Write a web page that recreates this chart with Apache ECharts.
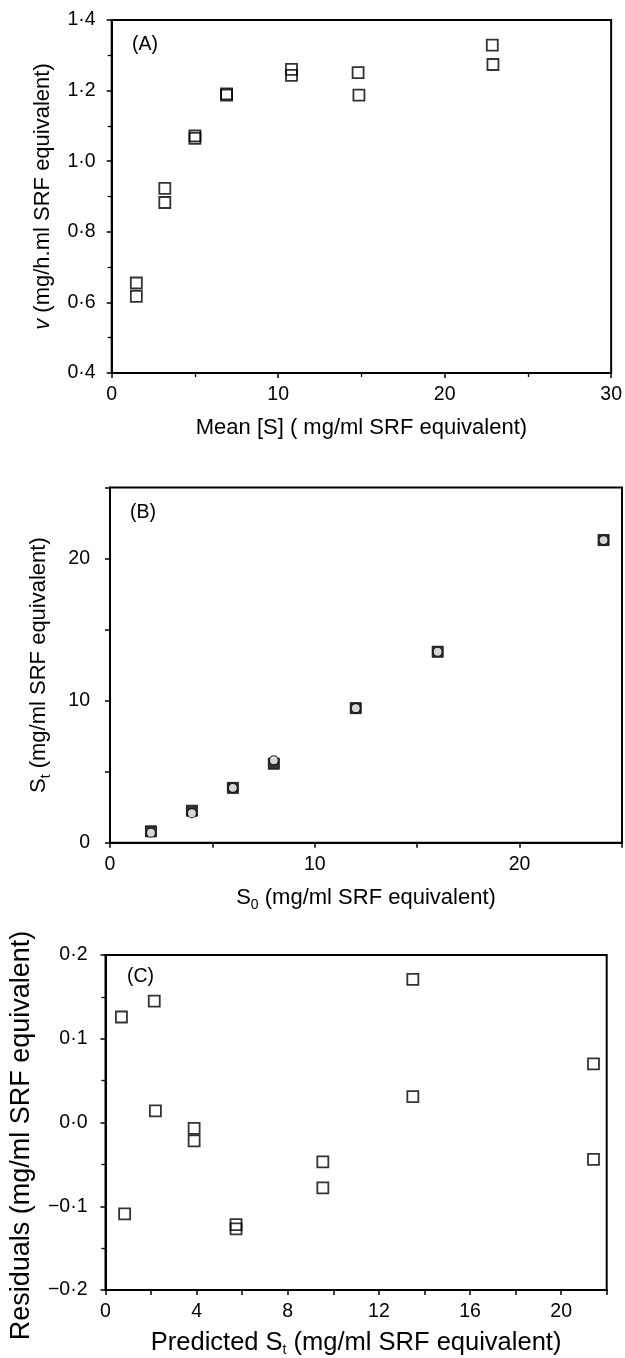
<!DOCTYPE html>
<html>
<head>
<meta charset="utf-8">
<script src="https://cdn.jsdelivr.net/npm/echarts@6/dist/echarts.min.js"></script>
<style>
  html, body { margin: 0; padding: 0; background: #fff; }
  #chart { width: 625px; height: 1358px; }
</style>
</head>
<body>
<div id="chart"></div>
<script>
// panel A: rate vs mean substrate
const aMeanS = [1.48, 1.48, 3.19, 3.19, 5.0, 5.0, 6.9, 6.9, 10.8, 10.8, 14.8, 14.85, 22.86, 22.9];
const aRate = [0.655, 0.617, 0.923, 0.883, 1.072, 1.065, 1.191, 1.187, 1.26, 1.243, 1.251, 1.187, 1.329, 1.274];

// panel B: St vs S0 (squares = observed, circles = fitted)
const bS0 = [2, 4, 6, 8, 12, 16, 24.1];
const bStSquare = [0.8, 2.25, 3.86, 5.56, 9.47, 13.44, 21.3];
const bStCircle = [0.7, 2.08, 3.86, 5.8, 9.47, 13.44, 21.3];

// panel C: residuals vs predicted St
const cPredSt = [0.7, 2.14, 2.19, 0.84, 3.89, 3.89, 5.73, 5.73, 9.54, 9.54, 13.49, 13.49, 21.42, 21.42];
const cResidual = [0.126, 0.145, 0.014, -0.109, -0.007, -0.022, -0.122, -0.127, -0.047, -0.078, 0.171, 0.031, 0.070, -0.044];

const black = '#000';
const font = '"Liberation Sans", Arial, Helvetica, sans-serif';

const pairs = (xs, ys) => xs.map((x, i) => [x, ys[i]]);

// decimal labels with a raised dot, like the print
const dotFmt = v => {
  if (Math.abs(v) < 1e-9) v = 0;
  return (v < 0 ? '−' : '') + Math.abs(v).toFixed(1).replace('.', '·');
};
const everyFmt = step => v => (Math.abs(v / step - Math.round(v / step)) < 1e-6 ? String(Math.round(v)) : '');

function axis(o) {
  const size = o.nameSize || 22;
  return {
    type: 'value',
    gridIndex: o.grid,
    min: o.min,
    max: o.max,
    interval: o.interval,
    name: o.name,
    nameLocation: 'middle',
    nameGap: o.nameGap,
    nameTextStyle: {
      color: black, fontFamily: font, fontSize: size,
      padding: o.namePad || 0,
      rich: {
        n: { fontFamily: font, fontSize: size, color: black, lineHeight: 28 },
        i: { fontFamily: font, fontSize: size, color: black, fontStyle: 'italic', lineHeight: 28 },
        sub: { fontFamily: font, fontSize: 14, color: black, lineHeight: 14, verticalAlign: 'bottom' }
      }
    },
    axisLine: { show: true, onZero: false, lineStyle: { color: black, width: 2 } },
    axisTick: { show: true, inside: false, length: 5, lineStyle: { color: black, width: 1.5 } },
    minorTick: { show: !!o.minor, splitNumber: 2, length: 4, lineStyle: { color: black, width: 1.3 } },
    splitLine: { show: false },
    minorSplitLine: { show: false },
    axisLabel: {
      color: black, fontFamily: font, fontSize: 19.5, margin: o.margin,
      showMinLabel: true, showMaxLabel: true,
      formatter: o.fmt
    }
  };
}

const chart = echarts.init(document.getElementById('chart'), null, { renderer: 'canvas' });

chart.setOption({
  animation: false,
  backgroundColor: '#fff',
  grid: [
    { left: 111.7, top: 20, width: 501, height: 353, show: true, borderColor: black, borderWidth: 2, containLabel: false },
    { left: 110, top: 487.5, width: 518.75, height: 355.2, show: true, borderColor: black, borderWidth: 2, containLabel: false },
    { left: 105, top: 955, width: 501.7, height: 337.7, show: true, borderColor: black, borderWidth: 2, containLabel: false }
  ],
  xAxis: [
    axis({ grid: 0, min: 0, max: 30, interval: 10, minor: true, margin: 12, nameGap: 41,
      name: '{n|Mean [S] ( mg/ml SRF equivalent)}', fmt: v => String(v) }),
    axis({ grid: 1, min: 0, max: 25, interval: 5, margin: 12, nameGap: 41,
      name: '{n|S}{sub|0}{n| (mg/ml SRF equivalent)}', fmt: everyFmt(10) }),
    axis({ grid: 2, min: 0, max: 22, interval: 2, margin: 12, nameGap: 39, nameSize: 25.5,
      name: '{n|Predicted S}{sub|t}{n| (mg/ml SRF equivalent)}', fmt: everyFmt(4) })
  ],
  yAxis: [
    axis({ grid: 0, min: 0.4, max: 1.4, interval: 0.2, minor: true, margin: 16, nameGap: 55,
      name: '{i|v}{n| (mg/h.ml SRF equivalent)}', fmt: dotFmt }),
    axis({ grid: 1, min: 0, max: 25, interval: 5, margin: 20, nameGap: 57,
      name: '{n|S}{sub|t}{n| (mg/ml SRF equivalent)}', fmt: everyFmt(10) }),
    axis({ grid: 2, min: -0.2, max: 0.2, interval: 0.1, minor: true, margin: 18, nameGap: 70, nameSize: 27,
      namePad: [0, 26, 0, 0],
      name: '{n|Residuals (mg/ml SRF equivalent)}', fmt: dotFmt })
  ],
  graphic: [
    { type: 'text', left: 132, top: 35, style: { text: '(A)', fontSize: 19.5, fontFamily: font, fill: black } },
    { type: 'text', left: 130, top: 503, style: { text: '(B)', fontSize: 19.5, fontFamily: font, fill: black } },
    { type: 'text', left: 127, top: 967, style: { text: '(C)', fontSize: 19.5, fontFamily: font, fill: black } }
  ],
  series: [
    {
      type: 'scatter', xAxisIndex: 0, yAxisIndex: 0,
      symbol: 'rect', symbolSize: 11,
      itemStyle: { color: 'rgba(0,0,0,0)', borderColor: black, borderWidth: 1.8 },
      data: pairs(aMeanS, aRate)
    },
    {
      type: 'scatter', xAxisIndex: 1, yAxisIndex: 1,
      symbol: 'rect', symbolSize: 11,
      itemStyle: { color: black, borderColor: black, borderWidth: 1 },
      data: pairs(bS0, bStSquare)
    },
    {
      type: 'scatter', xAxisIndex: 1, yAxisIndex: 1,
      symbol: 'circle', symbolSize: 9,
      itemStyle: { color: '#fff', borderColor: black, borderWidth: 1.2 },
      data: pairs(bS0, bStCircle)
    },
    {
      type: 'scatter', xAxisIndex: 2, yAxisIndex: 2,
      symbol: 'rect', symbolSize: 11,
      itemStyle: { color: 'rgba(0,0,0,0)', borderColor: black, borderWidth: 1.8 },
      data: pairs(cPredSt, cResidual)
    }
  ]
});
</script>
</body>
</html>
